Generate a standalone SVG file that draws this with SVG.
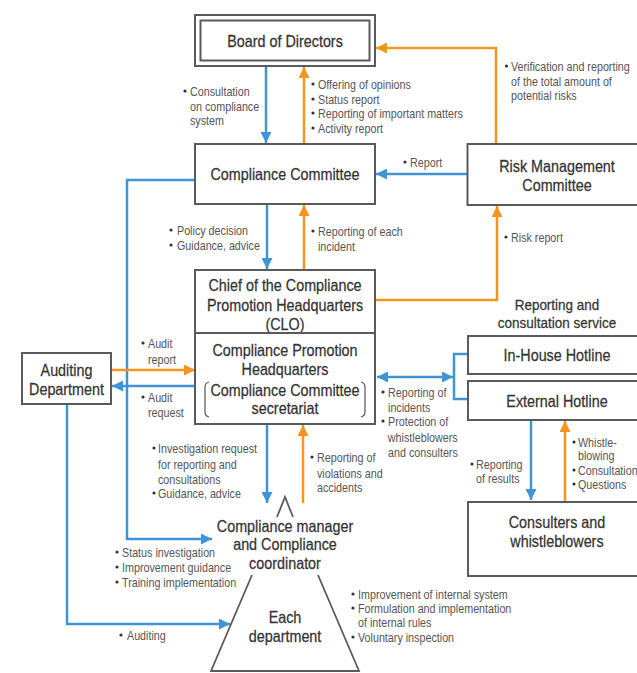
<svg xmlns="http://www.w3.org/2000/svg" width="637" height="673" viewBox="0 0 637 673">
<style>
.box{fill:#fff;stroke:#5a5a5a;stroke-width:2}
.nt{font-family:"Liberation Sans",Arial,sans-serif;font-size:16.5px;fill:#333;stroke:#333;stroke-width:0.25;text-anchor:middle;dominant-baseline:central;transform-box:fill-box;transform-origin:50% 50%;transform:scaleX(0.87)}
.st{font-size:15.5px}
.lb{font-family:"Liberation Sans",Arial,sans-serif;font-size:12.5px;fill:#555;dominant-baseline:central;transform-box:fill-box;transform-origin:0% 50%;transform:scaleX(0.86)}
.b{fill:none;stroke:#4094d3;stroke-width:2.5}
.o{fill:none;stroke:#f7941e;stroke-width:2.5}
.dot{fill:#333}
</style>
<defs>
<marker id="ab" markerUnits="userSpaceOnUse" viewBox="0 0 10 10" refX="10" refY="5" markerWidth="11" markerHeight="11" orient="auto-start-reverse"><path d="M0,0 L10,5 L0,10 z" fill="#4094d3"/></marker>
<marker id="ao" markerUnits="userSpaceOnUse" viewBox="0 0 10 10" refX="10" refY="5" markerWidth="11" markerHeight="11" orient="auto"><path d="M0,0 L10,5 L0,10 z" fill="#f7941e"/></marker>
</defs>

<g id="connectors">
<path class="b" d="M266,66 V143" marker-end="url(#ab)"/>
<path class="o" d="M304,144 V67" marker-end="url(#ao)"/>
<path class="o" d="M496,144 V48 H376" marker-end="url(#ao)"/>
<path class="b" d="M467,174 H376" marker-end="url(#ab)"/>
<path class="b" d="M267,204 V269" marker-end="url(#ab)"/>
<path class="o" d="M304,270 V205" marker-end="url(#ao)"/>
<path class="o" d="M375,300 H497 V206" marker-end="url(#ao)"/>
<path class="b" d="M195,180 H127 V539 H212" marker-end="url(#ab)"/>
<path class="o" d="M112,370 H195" marker-end="url(#ao)"/>
<path class="b" d="M195,386 H112" marker-end="url(#ab)"/>
<path class="b" d="M67,404 V624 H230" marker-end="url(#ab)"/>
<path class="b" d="M267,424 V503" marker-end="url(#ab)"/>
<path class="o" d="M303,503 V425" marker-end="url(#ao)"/>
<path class="b" d="M377,377 H453" marker-start="url(#ab)" marker-end="url(#ab)"/>
<path class="b" d="M468,354 H454 V399 H468"/>
<path class="b" d="M531,421 V500" marker-end="url(#ab)"/>
<path class="o" d="M565,502 V421" marker-end="url(#ao)"/>
</g>

<g id="board">
<rect class="box" x="195" y="15" width="180" height="51"/>
<rect class="box" x="200.5" y="20.5" width="169" height="40"/>
<text class="nt" x="285" y="41">Board of Directors</text>
</g>

<g id="compliance-committee">
<rect class="box" x="195" y="144" width="180" height="60"/>
<text class="nt" x="285" y="174">Compliance Committee</text>
</g>

<g id="risk-management">
<rect class="box" x="467.5" y="144" width="180" height="61"/>
<text class="nt" x="557" y="166">Risk Management</text>
<text class="nt" x="557" y="185">Committee</text>
</g>

<g id="clo">
<rect class="box" x="195" y="270" width="180" height="63"/>
<text class="nt" x="285" y="285">Chief of the Compliance</text>
<text class="nt" x="285" y="305">Promotion Headquarters</text>
<text class="nt" x="285" y="324">(CLO)</text>
</g>

<g id="promotion-hq">
<rect class="box" x="195" y="333" width="180" height="91"/>
<text class="nt" x="285" y="350">Compliance Promotion</text>
<text class="nt" x="285" y="369">Headquarters</text>
<text class="nt" x="285" y="390">Compliance Committee</text>
<text class="nt" x="285" y="408">secretariat</text>
<path d="M209,382 Q205,383 205,387 V412 Q205,416 209,417" fill="none" stroke="#555" stroke-width="1.2"/>
<path d="M361,382 Q365,383 365,387 V412 Q365,416 361,417" fill="none" stroke="#555" stroke-width="1.2"/>
</g>

<g id="auditing">
<rect class="box" x="22" y="353" width="89" height="51"/>
<text class="nt" x="66.5" y="370">Auditing</text>
<text class="nt" x="66.5" y="389">Department</text>
</g>

<g id="service-title">
<text class="nt st" x="557" y="305">Reporting and</text>
<text class="nt st" x="557" y="323">consultation service</text>
</g>

<g id="inhouse">
<rect class="box" x="468" y="336" width="180" height="38"/>
<text class="nt" x="557" y="355">In-House Hotline</text>
</g>

<g id="external">
<rect class="box" x="468" y="381" width="180" height="39"/>
<text class="nt" x="557" y="401">External Hotline</text>
</g>

<g id="consulters">
<rect class="box" x="468" y="502" width="180" height="74"/>
<text class="nt" x="557" y="522">Consulters and</text>
<text class="nt" x="557" y="541">whistleblowers</text>
</g>

<g id="manager-department">
<path d="M277,517 L285,497 L293,517" fill="none" stroke="#5a5a5a" stroke-width="1.8"/>
<path d="M252,575 L211,671 L359,671 L318,575" fill="none" stroke="#5a5a5a" stroke-width="1.8"/>
<text class="nt" x="285" y="526">Compliance manager</text>
<text class="nt" x="285" y="544">and Compliance</text>
<text class="nt" x="285" y="563">coordinator</text>
<text class="nt" x="285" y="617">Each</text>
<text class="nt" x="285" y="636">department</text>
</g>

<g id="labels">
<circle class="dot" cx="185" cy="91" r="1.6"/>
<text class="lb" x="190" y="91">Consultation</text>
<text class="lb" x="190" y="106">on compliance</text>
<text class="lb" x="190" y="120">system</text>

<circle class="dot" cx="313" cy="84" r="1.6"/>
<text class="lb" x="318" y="84">Offering of opinions</text>
<circle class="dot" cx="313" cy="99" r="1.6"/>
<text class="lb" x="318" y="99">Status report</text>
<circle class="dot" cx="313" cy="113" r="1.6"/>
<text class="lb" x="318" y="113">Reporting of important matters</text>
<circle class="dot" cx="313" cy="128" r="1.6"/>
<text class="lb" x="318" y="128">Activity report</text>

<circle class="dot" cx="506.5" cy="66" r="1.6"/>
<text class="lb" x="511" y="66">Verification and reporting</text>
<text class="lb" x="511" y="81">of the total amount of</text>
<text class="lb" x="511" y="95">potential risks</text>

<circle class="dot" cx="405" cy="162" r="1.6"/>
<text class="lb" x="410" y="162">Report</text>

<circle class="dot" cx="171" cy="230" r="1.6"/>
<text class="lb" x="177" y="230">Policy decision</text>
<circle class="dot" cx="171" cy="245" r="1.6"/>
<text class="lb" x="177" y="245">Guidance, advice</text>

<circle class="dot" cx="313" cy="231" r="1.6"/>
<text class="lb" x="318" y="231">Reporting of each</text>
<text class="lb" x="318" y="246">incident</text>

<circle class="dot" cx="506" cy="237" r="1.6"/>
<text class="lb" x="511" y="237">Risk report</text>

<circle class="dot" cx="143" cy="343" r="1.6"/>
<text class="lb" x="148" y="343">Audit</text>
<text class="lb" x="148" y="359">report</text>
<circle class="dot" cx="143" cy="397" r="1.6"/>
<text class="lb" x="148" y="397">Audit</text>
<text class="lb" x="148" y="412">request</text>

<circle class="dot" cx="383" cy="392" r="1.6"/>
<text class="lb" x="388" y="392">Reporting of</text>
<text class="lb" x="388" y="407">incidents</text>
<circle class="dot" cx="383" cy="421" r="1.6"/>
<text class="lb" x="388" y="421">Protection of</text>
<text class="lb" x="388" y="437">whistleblowers</text>
<text class="lb" x="388" y="452">and consulters</text>

<circle class="dot" cx="154" cy="448" r="1.6"/>
<text class="lb" x="158" y="448">Investigation request</text>
<text class="lb" x="158" y="464">for reporting and</text>
<text class="lb" x="158" y="479">consultations</text>
<circle class="dot" cx="154" cy="493" r="1.6"/>
<text class="lb" x="158" y="493">Guidance, advice</text>

<circle class="dot" cx="312" cy="457" r="1.6"/>
<text class="lb" x="317" y="457">Reporting of</text>
<text class="lb" x="317" y="473">violations and</text>
<text class="lb" x="317" y="487">accidents</text>

<circle class="dot" cx="472" cy="464" r="1.6"/>
<text class="lb" x="476" y="464">Reporting</text>
<text class="lb" x="476" y="478">of results</text>

<circle class="dot" cx="574" cy="442" r="1.6"/>
<text class="lb" x="578" y="442">Whistle-</text>
<text class="lb" x="578" y="455">blowing</text>
<circle class="dot" cx="574" cy="470" r="1.6"/>
<text class="lb" x="578" y="470">Consultation</text>
<circle class="dot" cx="574" cy="484" r="1.6"/>
<text class="lb" x="578" y="484">Questions</text>

<circle class="dot" cx="117" cy="552" r="1.6"/>
<text class="lb" x="122" y="552">Status investigation</text>
<circle class="dot" cx="117" cy="567" r="1.6"/>
<text class="lb" x="122" y="567">Improvement guidance</text>
<circle class="dot" cx="117" cy="582" r="1.6"/>
<text class="lb" x="122" y="582">Training implementation</text>

<circle class="dot" cx="121" cy="635" r="1.6"/>
<text class="lb" x="127" y="635">Auditing</text>

<circle class="dot" cx="353" cy="594" r="1.6"/>
<text class="lb" x="358" y="594">Improvement of internal system</text>
<circle class="dot" cx="353" cy="608" r="1.6"/>
<text class="lb" x="358" y="608">Formulation and implementation</text>
<text class="lb" x="358" y="622">of internal rules</text>
<circle class="dot" cx="353" cy="637" r="1.6"/>
<text class="lb" x="358" y="637">Voluntary inspection</text>
</g>
</svg>
